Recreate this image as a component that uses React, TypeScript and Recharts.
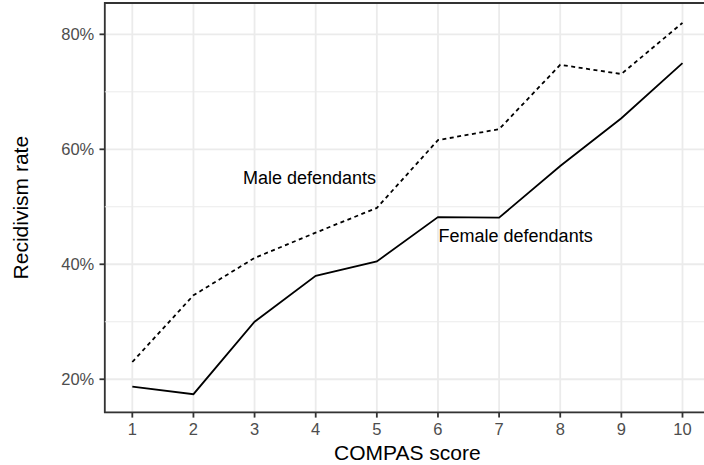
import React from 'react';
import { LineChart, Line, XAxis, YAxis, CartesianGrid, ReferenceLine, ReferenceArea, ReferenceDot, Label } from 'recharts';

const scores = [1, 2, 3, 4, 5, 6, 7, 8, 9, 10];
const femaleRate = [18.7, 17.4, 30.0, 38.0, 40.5, 48.2, 48.1, 57.1, 65.4, 75.0];
const maleRate = [23.0, 34.6, 41.1, 45.5, 49.8, 61.6, 63.5, 74.7, 73.1, 82.0];
const yTicks = [20, 40, 60, 80];
const yMinor = [30, 50, 70];
const xDomain = [0.55, 10.45];
const yDomain = [14.25, 85.45];

const data = scores.map((s, i) => ({ score: s, female: femaleRate[i], male: maleRate[i] }));

const FONT = '"Liberation Sans", Arial, sans-serif';

export default function App() {
  return (
    <div style={{ position: 'absolute', left: 0, top: 0, width: 704, height: 465, overflow: 'hidden', background: '#fff' }}>
      <LineChart width={720} height={465} data={data} margin={{ top: 3, right: 10, bottom: 0, left: 0 }} style={{ fontFamily: FONT }}>
        <CartesianGrid stroke="#EBEBEB" strokeWidth={1.8} />
        {yMinor.map((v) => (
          <ReferenceLine key={v} y={v} stroke="#EBEBEB" strokeWidth={1} />
        ))}
        <XAxis
          dataKey="score"
          type="number"
          domain={xDomain}
          ticks={scores}
          allowDataOverflow
          height={52.7}
          axisLine={false}
          tickLine={{ stroke: '#333333', strokeWidth: 1.8 }}
          tickSize={5.3}
          tickMargin={5.4}
          tick={{ fill: '#4D4D4D', fontSize: 16.5, fontFamily: FONT }}
        >
          <Label
            content={(props: any) => {
              const vb = props.viewBox;
              return (
                <text x={vb.x + vb.width / 2} y={vb.y + 47.5} textAnchor="middle" fontSize={21} fill="#000" fontFamily={FONT}>
                  COMPAS score
                </text>
              );
            }}
          />
        </XAxis>
        <YAxis
          type="number"
          domain={yDomain}
          ticks={yTicks}
          allowDataOverflow
          width={104.8}
          axisLine={false}
          tickLine={{ stroke: '#333333', strokeWidth: 1.8 }}
          tickSize={5.3}
          tickMargin={5.2}
          tickFormatter={(v: number) => `${v}%`}
          tick={{ fill: '#4D4D4D', fontSize: 16.5, fontFamily: FONT }}
        >
          <Label
            content={(props: any) => {
              const vb = props.viewBox;
              const cy = vb.y + vb.height / 2;
              return (
                <text transform={`translate(27.5,${cy}) rotate(-90)`} x={0} y={0} textAnchor="middle" fontSize={21} fill="#000" fontFamily={FONT}>
                  Recidivism rate
                </text>
              );
            }}
          />
        </YAxis>
        <Line type="linear" dataKey="female" stroke="#000" strokeWidth={1.8} dot={false} isAnimationActive={false} />
        <Line type="linear" dataKey="male" stroke="#000" strokeWidth={1.8} strokeDasharray="4 3.5" dot={false} isAnimationActive={false} />
        <ReferenceDot x={3.9} y={55} r={0} fill="none" stroke="none" label={{ value: 'Male defendants', position: 'center', fontSize: 18, fill: '#000', fontFamily: FONT }} />
        <ReferenceDot x={7.27} y={45} r={0} fill="none" stroke="none" label={{ value: 'Female defendants', position: 'center', fontSize: 18, fill: '#000', fontFamily: FONT }} />
        <ReferenceArea x1={xDomain[0]} x2={xDomain[1]} y1={yDomain[0]} y2={yDomain[1]} fill="none" stroke="#333333" strokeWidth={1.8} ifOverflow="visible" />
      </LineChart>
    </div>
  );
}
